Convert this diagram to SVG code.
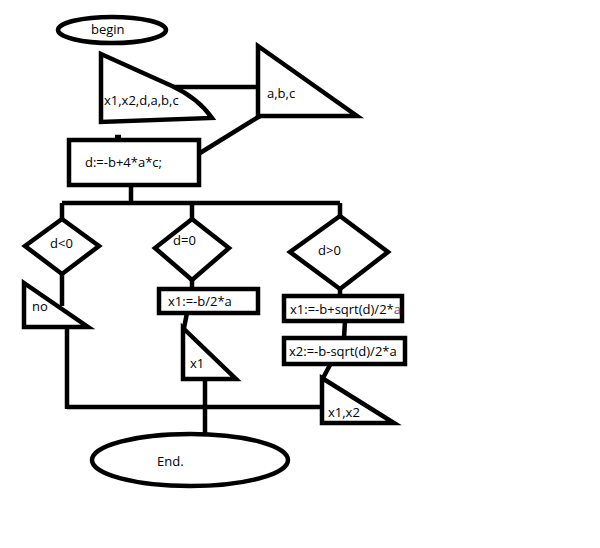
<svg xmlns="http://www.w3.org/2000/svg" width="600" height="548" viewBox="0 0 600 548">
<style>
.s{fill:#fff;stroke:#000;stroke-width:4.5;stroke-linejoin:miter}
.c{fill:none;stroke:#000;stroke-width:4.5}
text{font-family:"Open Sans","Noto Sans","Liberation Sans",sans-serif;font-size:13px;fill:#000}
</style>
<rect width="600" height="548" fill="#fff"/>
<g id="connectors">
<path class="c" d="M173,87 H260"/>
<path class="c" d="M260,116 L200,153"/>
<path class="c" d="M131,186 V205"/>
<path class="c" d="M62,203 H340"/>
<path class="c" d="M62,203 V220"/>
<path class="c" d="M192,203 V220"/>
<path class="c" d="M340,203 V216"/>
<path class="c" d="M62,274 V306"/>
<path class="c" d="M67,327 V409"/>
<path class="c" d="M192,280 V290"/>
<path class="c" d="M187,313 L184,328"/>
<path class="c" d="M340,289 V296"/>
<path class="c" d="M345,321 L344,338"/>
<path class="c" d="M330,365 L323,378"/>
<path class="c" d="M67,407 H323"/>
<path class="c" d="M205,379 V435"/>
<path class="c" d="M115,137 h6" stroke-width="2"/>
</g>
<g id="begin">
<ellipse class="s" cx="112" cy="30" rx="54" ry="13"/>
<text x="91" y="34">begin</text>
</g>
<g id="input1">
<path class="s" d="M101,54 L172,86 Q198,98 212,118 L101,122 Z"/>
<text x="104" y="105">x1,x2,d,a,b,c</text>
</g>
<g id="out_abc">
<path class="s" d="M258,46 L357,116 L258,116 Z"/>
<text x="267" y="98">a,b,c</text>
</g>
<g id="calc_d">
<rect class="s" x="69" y="140" width="130" height="45"/>
<text x="85" y="167">d:=-b+4*a*c;</text>
</g>
<g id="d_lt0">
<path class="s" d="M62,219 L99,246 L62,274 L25,246 Z"/>
<text x="50" y="248">d&lt;0</text>
</g>
<g id="out_no">
<path class="s" d="M24,283 L88,327 L24,327 Z"/>
<text x="32" y="311">no</text>
</g>
<g id="d_eq0">
<path class="s" d="M192,219 L229,248 L192,280 L155,248 Z"/>
<text x="173" y="245">d=0</text>
</g>
<g id="calc_x1_single">
<rect class="s" x="159" y="289" width="99" height="24"/>
<text x="168" y="306">x1:=-b/2*a</text>
</g>
<g id="out_x1">
<path class="s" d="M183,328 L236,379 L183,379 Z"/>
<text x="190" y="368">x1</text>
</g>
<g id="d_gt0">
<path class="s" d="M340,216 L388,252 L340,289 L290,252 Z"/>
<text x="318" y="255">d&gt;0</text>
</g>
<g id="calc_x1">
<rect class="s" x="284" y="296" width="118" height="25"/>
<text x="290" y="314">x1:=-b+sqrt(d)/2*<tspan fill="#7a3a9a">a</tspan></text>
</g>
<g id="calc_x2">
<rect class="s" x="284" y="338" width="121" height="26"/>
<text x="289" y="356">x2:=-b-sqrt(d)/2*a</text>
</g>
<g id="out_x1x2">
<path class="s" d="M322,378 L394,423 L322,423 Z"/>
<text x="328" y="417">x1,x2</text>
</g>
<g id="end">
<ellipse class="s" cx="190" cy="460" rx="98" ry="26"/>
<text x="157" y="466">End.</text>
</g>
</svg>
